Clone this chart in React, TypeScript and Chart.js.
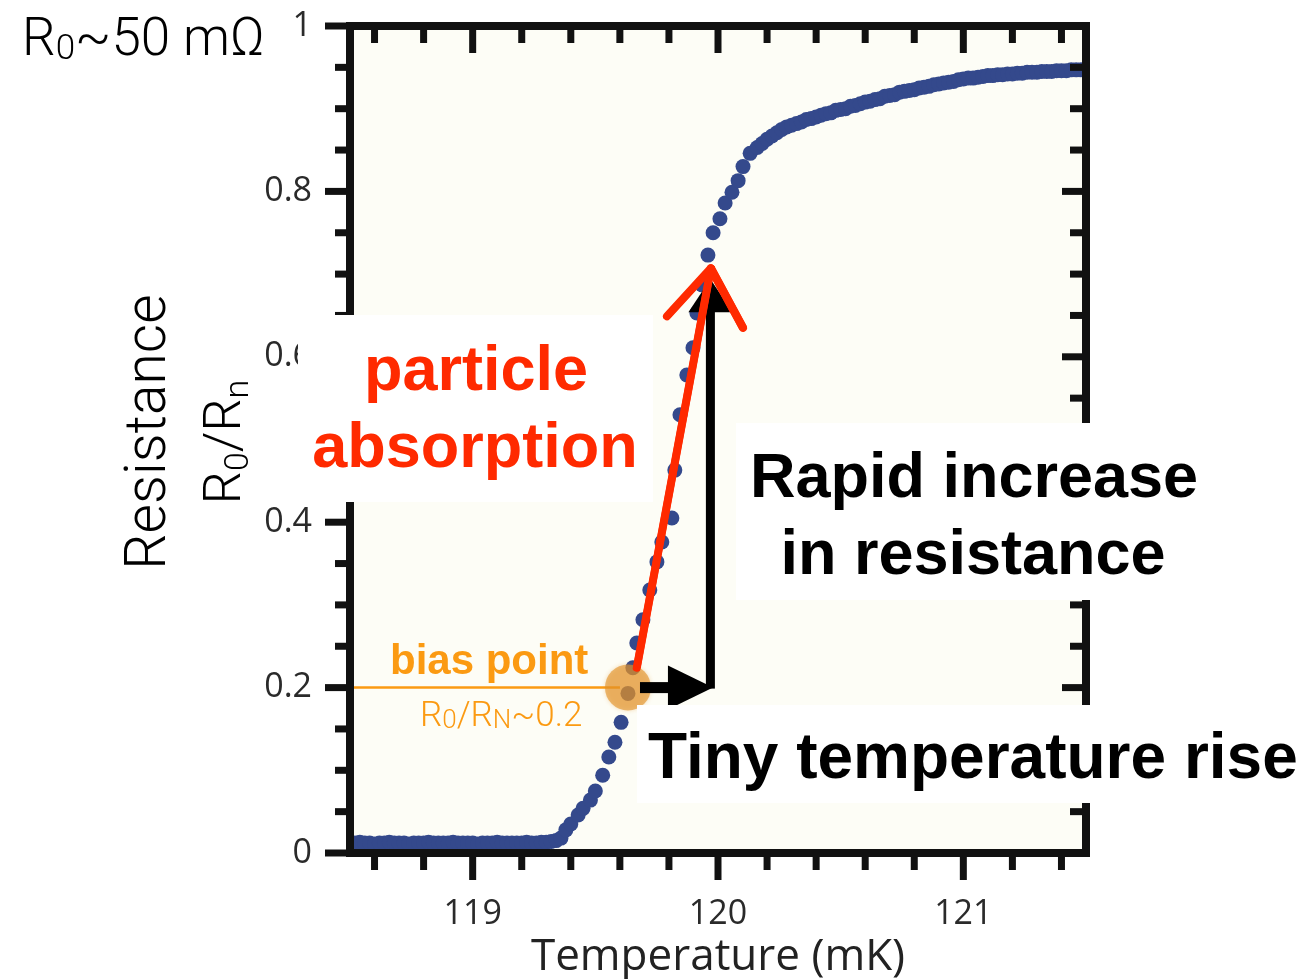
import React, { useEffect, useRef } from 'react';
import { Chart, registerables } from 'chart.js';

Chart.register(...registerables);

// ---------- data ----------
const temperature: number[] = [
  118.50, 118.52, 118.54, 118.56, 118.58, 118.60, 118.62, 118.64, 118.66, 118.68,
  118.70, 118.72, 118.74, 118.76, 118.78, 118.80, 118.82, 118.84, 118.86, 118.88,
  118.90, 118.92, 118.94, 118.96, 118.98, 119.00, 119.02, 119.04, 119.06, 119.08,
  119.10, 119.12, 119.14, 119.16, 119.18, 119.20, 119.22, 119.24, 119.26, 119.28,
  119.30, 119.32, 119.34,
  119.36, 119.38, 119.40, 119.43, 119.45, 119.48, 119.50, 119.53, 119.555, 119.58,
  119.605, 119.633, 119.653, 119.669, 119.694, 119.722, 119.751, 119.771, 119.812, 119.824,
  119.845, 119.873, 119.898, 119.914, 119.935, 119.959, 119.980, 120.008, 120.029, 120.057,
  120.082, 120.102, 120.131,
  120.16, 120.18, 120.20, 120.22, 120.24, 120.26, 120.28, 120.30, 120.32, 120.34,
  120.36, 120.38, 120.40, 120.42, 120.44, 120.46, 120.48, 120.50, 120.52, 120.54,
  120.56, 120.58, 120.60, 120.62, 120.64, 120.66, 120.68, 120.70, 120.72, 120.74,
  120.76, 120.78, 120.80, 120.82, 120.84, 120.86, 120.88, 120.90, 120.92, 120.94,
  120.96, 120.98, 121.00, 121.02, 121.04, 121.06, 121.08, 121.10, 121.12, 121.14,
  121.16, 121.18, 121.20, 121.22, 121.24, 121.26, 121.28, 121.30, 121.32, 121.34,
  121.36, 121.38, 121.40, 121.42, 121.44, 121.46, 121.48, 121.50,
];

const resistanceRatio: number[] = [
  0.012, 0.012, 0.013, 0.012, 0.012, 0.011, 0.012, 0.012, 0.013, 0.012,
  0.012, 0.012, 0.011, 0.012, 0.012, 0.012, 0.013, 0.012, 0.012, 0.012,
  0.012, 0.013, 0.012, 0.012, 0.012, 0.012, 0.011, 0.012, 0.012, 0.012,
  0.013, 0.012, 0.012, 0.012, 0.012, 0.012, 0.013, 0.012, 0.012, 0.013,
  0.013, 0.014, 0.015,
  0.018, 0.028, 0.035, 0.046, 0.054, 0.064, 0.075, 0.094, 0.116, 0.134,
  0.158, 0.193, 0.224, 0.254, 0.282, 0.318, 0.352, 0.376, 0.405, 0.463,
  0.530, 0.578, 0.611, 0.653, 0.687, 0.723, 0.750, 0.767, 0.786, 0.799,
  0.813, 0.830, 0.846,
  0.853, 0.858, 0.863, 0.867, 0.871, 0.875, 0.878, 0.880, 0.882, 0.884,
  0.887, 0.888, 0.890, 0.892, 0.894, 0.895, 0.898, 0.899, 0.900, 0.903,
  0.904, 0.906, 0.908, 0.909, 0.911, 0.912, 0.915, 0.916, 0.917, 0.920,
  0.921, 0.922, 0.923, 0.925, 0.926, 0.927, 0.929, 0.930, 0.931, 0.932,
  0.933, 0.935, 0.936, 0.937, 0.937, 0.938, 0.939, 0.940, 0.940, 0.941,
  0.941, 0.942, 0.942, 0.943, 0.943, 0.944, 0.944, 0.944, 0.945, 0.945,
  0.945, 0.946, 0.946, 0.946, 0.947, 0.947, 0.947, 0.947,
];

// tick positions (minor + major) and the labelled majors
const xTickPositions = [
  118.6, 118.8, 119.0, 119.2, 119.4, 119.6, 119.8, 120.0,
  120.2, 120.4, 120.6, 120.8, 121.0, 121.2, 121.4,
];
const xTickValues = [119, 120, 121];
const xTickLabels = ['119', '120', '121'];
const yTickValues = [0, 0.2, 0.4, 0.6, 0.8, 1];
const yTickLabels = ['0', '0.2', '0.4', '0.6', '0.8', '1'];

// annotation anchors in data units
const biasPoint = { t: 119.633, r: 0.2 };
const hArrow = { from: 119.682, headBase: 119.796, tip: 119.98 };
const vArrow = { t: 119.969, headBase: 0.654, tip: 0.694 };
const redArrow = {
  tail: { t: 119.669, r: 0.224 },
  tip: { t: 119.971, r: 0.707 },
  left: { t: 119.792, r: 0.649 },
  right: { t: 120.102, r: 0.635 },
};

const W = 1308;
const H = 979;
const PLOT_BG = '#fdfdf6';
const DOT = '#34498c';
const ORANGE = '#fb9a12';
const RED = '#ff2a00';
const LIGHT = "300 {S}px 'Roboto', 'Liberation Sans', sans-serif";
const BOLD = "bold {S}px 'Liberation Sans', Arial, sans-serif";
const f = (tpl: string, s: number) => tpl.replace('{S}', String(s));

const findLabel = (v: number, vals: number[], labels: string[]) => {
  const i = vals.findIndex((x) => Math.abs(x - v) < 1e-6);
  return i >= 0 ? labels[i] : '';
};

type Seg = { text: string; font: string; dy?: number };
function richWidth(ctx: CanvasRenderingContext2D, segs: Seg[]) {
  let w = 0;
  segs.forEach((s) => { ctx.font = s.font; w += ctx.measureText(s.text).width; });
  return w;
}
function drawRich(ctx: CanvasRenderingContext2D, segs: Seg[], x: number, y: number) {
  let cx = x;
  segs.forEach((s) => {
    ctx.font = s.font;
    ctx.fillText(s.text, cx, y + (s.dy || 0));
    cx += ctx.measureText(s.text).width;
  });
}

const annotate = {
  id: 'annotate',
  beforeDatasetsDraw(chart: any) {
    const { ctx, chartArea: a } = chart;
    ctx.save();
    ctx.fillStyle = PLOT_BG;
    ctx.fillRect(a.left, a.top, a.right - a.left, a.bottom - a.top);
    ctx.restore();
  },
  afterDatasetsDraw(chart: any) {
    const { ctx, chartArea: a } = chart;
    const xs = chart.scales.x;
    const ys = chart.scales.y;
    const px = (v: number) => xs.getPixelForValue(v);
    const py = (v: number) => ys.getPixelForValue(v);
    const line = (x1: number, y1: number, x2: number, y2: number) => {
      ctx.beginPath(); ctx.moveTo(x1, y1); ctx.lineTo(x2, y2); ctx.stroke();
    };
    ctx.save();

    // ticks
    ctx.strokeStyle = '#111';
    ctx.lineWidth = 7;
    ctx.lineCap = 'butt';
    xs.ticks.forEach((t: any) => {
      const x = px(t.value);
      const major = Math.abs(t.value - Math.round(t.value)) < 1e-6;
      line(x, a.bottom, x, a.bottom + (major ? 27 : 17));
      line(x, a.top, x, a.top + (major ? 27 : 17));
    });
    ys.ticks.forEach((t: any) => {
      const y = py(t.value);
      const q = t.value / 0.2;
      const major = Math.abs(q - Math.round(q)) < 1e-6;
      line(a.left - (major ? 25 : 15), y, a.left, y);
      line(a.right, y, a.right - (major ? 24 : 16), y);
    });
    // frame
    ctx.lineWidth = 8;
    ctx.strokeRect(a.left, a.top, a.right - a.left, a.bottom - a.top);

    // bias line + circle
    const bx = px(biasPoint.t);
    const by = py(biasPoint.r);
    ctx.strokeStyle = ORANGE;
    ctx.lineWidth = 2.5;
    line(a.left + 4, by, bx - 8, by);
    ctx.fillStyle = 'rgba(226,146,38,0.62)';
    ctx.shadowColor = 'rgba(226,146,38,0.5)';
    ctx.shadowBlur = 4;
    ctx.beginPath(); ctx.arc(bx, by, 23, 0, Math.PI * 2); ctx.fill();
    ctx.shadowBlur = 0;

    // black L arrow
    ctx.fillStyle = '#000';
    const hx0 = px(hArrow.from), hxb = px(hArrow.headBase), hxt = px(hArrow.tip);
    ctx.fillRect(hx0, by - 5.5, hxb - hx0 + 1, 11);
    ctx.beginPath(); ctx.moveTo(hxb, by - 22); ctx.lineTo(hxt, by); ctx.lineTo(hxb, by + 22); ctx.closePath(); ctx.fill();
    const vx = px(vArrow.t), vb = py(vArrow.headBase), vt = py(vArrow.tip);
    ctx.fillRect(vx - 4.5, vb - 1, 9, by + 2 - vb);
    ctx.beginPath(); ctx.moveTo(vx - 22, vb); ctx.lineTo(vx, vt); ctx.lineTo(vx + 22, vb); ctx.closePath(); ctx.fill();

    // red hand-drawn arrow
    const P = (p: { t: number; r: number }) => [px(p.t), py(p.r)];
    const [tx, ty] = P(redArrow.tail);
    const [ix, iy] = P(redArrow.tip);
    const [lx, ly] = P(redArrow.left);
    const [rx, ry] = P(redArrow.right);
    ctx.strokeStyle = RED;
    ctx.lineCap = 'round';
    ctx.lineJoin = 'round';
    const offs = [[0, 0, 8], [-2.5, 1, 3], [2.5, -1, 3], [1.5, 2, 2]];
    offs.forEach(([dx, dy, w]) => {
      ctx.lineWidth = w;
      ctx.beginPath(); ctx.moveTo(tx + dx, ty + dy); ctx.lineTo(ix + dx, iy + dy); ctx.stroke();
      ctx.beginPath(); ctx.moveTo(lx + dx, ly + dy); ctx.lineTo(ix + dx, iy + dy); ctx.lineTo(rx + dx, ry + dy); ctx.stroke();
    });

    // white cover boxes
    ctx.fillStyle = '#ffffff';
    ctx.fillRect(298, 315, 355, 187);
    ctx.fillRect(736, 423, W - 736, 177);
    ctx.fillRect(637, 705, W - 637, 98);

    // annotation texts
    ctx.textBaseline = 'alphabetic';
    ctx.fillStyle = RED;
    ctx.textAlign = 'center';
    ctx.font = f(BOLD, 63);
    ctx.fillText('particle', 476, 390);
    ctx.fillText('absorption', 475, 467);
    ctx.fillStyle = '#000';
    ctx.fillText('Rapid increase', 974, 497);
    ctx.fillText('in resistance', 973, 574);
    ctx.textAlign = 'left';
    ctx.font = f(BOLD, 64);
    ctx.fillText('Tiny temperature rise', 648, 778);

    ctx.fillStyle = ORANGE;
    ctx.font = f(BOLD, 42);
    ctx.fillText('bias point', 390, 674);
    drawRich(ctx, [
      { text: 'R', font: f(LIGHT, 35) },
      { text: '0', font: f(LIGHT, 26), dy: 2 },
      { text: '/R', font: f(LIGHT, 35) },
      { text: 'N', font: f(LIGHT, 26), dy: 2 },
      { text: '~0.2', font: f(LIGHT, 35) },
    ], 420, 726);

    // top-left label
    ctx.fillStyle = '#000';
    drawRich(ctx, [
      { text: 'R', font: f(LIGHT, 53) },
      { text: '0', font: f(LIGHT, 35), dy: 4 },
      { text: '~50 mΩ', font: f(LIGHT, 53) },
    ], 22, 55);

    // y-axis titles (rotated)
    ctx.save();
    ctx.translate(165, 432);
    ctx.rotate(-Math.PI / 2);
    ctx.textAlign = 'center';
    ctx.font = f(LIGHT, 57);
    ctx.fillText('Resistance', 0, 0);
    ctx.restore();

    ctx.save();
    ctx.translate(240, 442);
    ctx.rotate(-Math.PI / 2);
    ctx.textAlign = 'left';
    const segs: Seg[] = [
      { text: 'R', font: f(LIGHT, 52) },
      { text: '0', font: f(LIGHT, 34), dy: 8 },
      { text: '/R', font: f(LIGHT, 52) },
      { text: 'n', font: f(LIGHT, 34), dy: 8 },
    ];
    drawRich(ctx, segs, -richWidth(ctx, segs) / 2, 0);
    ctx.restore();

    ctx.restore();
  },
};

export default function App() {
  const ref = useRef<HTMLCanvasElement | null>(null);
  useEffect(() => {
    if (!ref.current) return;
    const points = temperature.map((t, i) => ({ x: t, y: resistanceRatio[i] }));
    const chart = new Chart(ref.current, {
      type: 'scatter',
      data: {
        datasets: [{
          data: points,
          pointRadius: 7.5,
          pointHoverRadius: 7.5,
          pointBackgroundColor: DOT,
          pointBorderWidth: 0,
          backgroundColor: DOT,
          borderWidth: 0,
        }],
      },
      options: {
        animation: false,
        responsive: false,
        devicePixelRatio: 1,
        events: [],
        layout: { autoPadding: false, padding: { left: 0, top: 26, right: 222, bottom: 0 } },
        plugins: { legend: { display: false }, tooltip: { enabled: false } },
        scales: {
          x: {
            type: 'linear',
            min: 118.5,
            max: 121.5,
            grid: { display: false, drawTicks: false },
            border: { display: false },
            afterBuildTicks: (s: any) => { s.ticks = xTickPositions.map((v) => ({ value: v })); },
            ticks: {
              autoSkip: false,
              maxRotation: 0,
              padding: 44,
              color: '#2a2a2a',
              font: { family: "'Open Sans', 'DejaVu Sans', sans-serif", size: 34, lineHeight: 1 },
              callback: (v: any) => findLabel(Number(v), xTickValues, xTickLabels),
            },
            title: {
              display: true,
              text: 'Temperature (mK)',
              color: '#222',
              font: { family: "'Open Sans', 'DejaVu Sans', sans-serif", size: 44, lineHeight: 1 },
              padding: { top: 0, bottom: 0 },
            },
            afterFit: (s: any) => {
              s.height = H - 853;
              s.paddingLeft = 0; s.paddingRight = 0;
            },
          },
          y: {
            type: 'linear',
            min: 0,
            max: 1,
            grid: { display: false, drawTicks: false },
            border: { display: false },
            ticks: {
              stepSize: 0.05,
              includeBounds: false,
              autoSkip: false,
              padding: 38,
              color: '#2a2a2a',
              font: { family: "'Open Sans', 'DejaVu Sans', sans-serif", size: 34, lineHeight: 1 },
              callback: (v: any) => findLabel(Number(v), yTickValues, yTickLabels),
            },
            afterFit: (s: any) => {
              s.width = 350;
              s.paddingTop = 0; s.paddingBottom = 0;
            },
          },
        },
      },
      plugins: [annotate],
    } as any);
    return () => chart.destroy();
  }, []);
  return (
    <div style={{ position: 'absolute', left: 0, top: 0, width: W, height: H, background: '#fff' }}>
      <canvas ref={ref} width={W} height={H} style={{ display: 'block', width: W, height: H }} />
    </div>
  );
}
